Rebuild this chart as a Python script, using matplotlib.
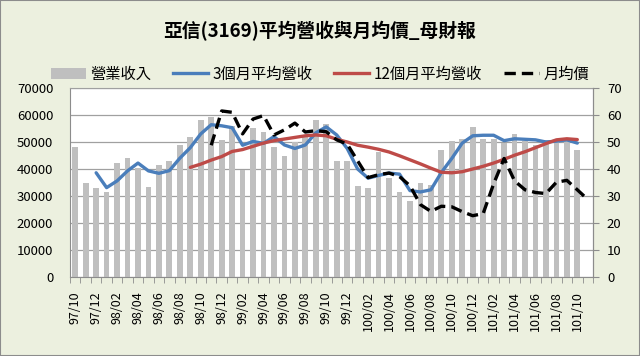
import numpy as np
import matplotlib
matplotlib.use('Agg')
import matplotlib.pyplot as plt
from matplotlib.patches import Patch, Rectangle
from matplotlib.lines import Line2D

plt.rcParams['font.family'] = ['Noto Sans CJK TC', 'DejaVu Sans']

# Data
title = '亞信(3169)平均營收與月均價_母財報'
months = ['97/10', '97/11', '97/12', '98/01', '98/02', '98/03', '98/04', '98/05', '98/06', '98/07',
          '98/08', '98/09', '98/10', '98/11', '98/12', '99/01', '99/02', '99/03', '99/04', '99/05',
          '99/06', '99/07', '99/08', '99/09', '99/10', '99/11', '99/12', '100/01', '100/02', '100/03',
          '100/04', '100/05', '100/06', '100/07', '100/08', '100/09', '100/10', '100/11', '100/12', '101/01',
          '101/02', '101/03', '101/04', '101/05', '101/06', '101/07', '101/08', '101/09', '101/10', '101/11']
revenue = [48000, 34800, 33000, 31600, 42200, 44100, 40300, 33500, 41500, 43100,
           48900, 51700, 58300, 59100, 50700, 56000, 39600, 55100, 53800, 48000,
           44900, 49900, 51900, 58300, 56500, 43100, 43100, 33800, 32800, 46200,
           36500, 31600, 28000, 34800, 34000, 47200, 50500, 51000, 55500, 51000,
           51000, 49500, 53000, 50500, 49000, 50600, 51200, 50600, 46900, None]
avg3 = [None, None, 38600, 33100, 35600, 39300, 42200, 39300, 38400, 39400,
        44000, 47900, 53000, 56400, 56000, 55300, 48800, 50200, 49500, 52000,
        48900, 47600, 48900, 53400, 55600, 52600, 47600, 40000, 36600, 37600,
        38500, 38100, 32000, 31500, 32300, 38700, 43900, 49600, 52300, 52500,
        52500, 50500, 51200, 51000, 50800, 50000, 50300, 50800, 49600, None]
avg12 = [None, None, None, None, None, None, None, None, None, None,
         None, 40600, 41800, 43300, 44600, 46500, 47200, 48400, 49600, 50500,
         51100, 51700, 52300, 52600, 52300, 51000, 50000, 48800, 48100, 47300,
         46300, 44900, 43400, 41900, 40300, 38800, 38600, 39000, 40000, 41000,
         42200, 43600, 45100, 46400, 47900, 49400, 50800, 51200, 50900, None]
price = [None, None, None, None, None, None, None, None, None, None,
         None, None, None, 48.8, 61.5, 61.0, 53.0, 58.5, 59.8, 52.6,
         54.5, 57.0, 53.7, 54.2, 53.8, 50.8, 49.2, 43.0, 36.8, 37.9,
         38.5, 37.2, 33.8, 26.8, 24.3, 26.2, 26.0, 24.2, 22.7, 23.5,
         34.5, 43.9, 35.6, 32.3, 31.3, 30.9, 35.1, 35.8, 32.3, 28.7]
labels = ['營業收入', '3個月平均營收', '12個月平均營收', '月均價']

c_bar = '#BFBFBF'
c_blue = '#4A7EBB'
c_red = '#BE4B48'
c_grid = '#A0A0A0'
c_axis = '#8C8C8C'
dash = (3.4, 1.8)

x = np.arange(len(months))
rev = np.array(revenue, dtype=float)
a3 = np.array(avg3, dtype=float)
a12 = np.array(avg12, dtype=float)
pr = np.array(price, dtype=float)

fig = plt.figure(figsize=(6.4, 3.56), dpi=100, facecolor='#ECF0DF')
fig.patches.append(Rectangle((0, 0), 1, 1, transform=fig.transFigure, fill=False,
                             edgecolor=c_axis, lw=1.5))
ax = fig.add_axes([70/640, 1-277/356, 523/640, 189/356])
ax.set_facecolor('white')

ax.bar(x, rev, width=0.55, color=c_bar, zorder=2)
ax.plot(x, a3, color=c_blue, lw=2.4, zorder=3, solid_capstyle='round')
ax.plot(x, a12, color=c_red, lw=2.4, zorder=3, solid_capstyle='round')
ax.set_xlim(-0.5, len(months)-0.5)
ax.set_ylim(0, 70000)
ax.set_yticks(np.arange(0, 70001, 10000))
ax.yaxis.grid(True, color=c_grid, lw=0.9)
ax.set_axisbelow(True)
ax.set_xticks(x[::2])
ax.set_xticklabels(months[::2], rotation=90, fontsize=9)
ax.set_xticks(np.arange(-0.5, len(months), 1), minor=True)
ax.tick_params(axis='x', which='major', length=0, pad=10)
ax.tick_params(axis='x', which='minor', length=4, color=c_axis, direction='out')
ax.tick_params(axis='y', length=0, pad=12, labelsize=9.5)
for s in ['left', 'bottom', 'right']:
    ax.spines[s].set_color(c_axis)
ax.spines['top'].set_color(c_grid)

ax2 = ax.twinx()
ax2.plot(x, pr, color='black', lw=2.4, dashes=dash, zorder=4)
ax2.set_ylim(0, 70)
ax2.set_yticks(np.arange(0, 71, 10))
ax2.tick_params(axis='y', length=4, color=c_axis, direction='out', pad=6, labelsize=9.5)
for s in ['left', 'bottom', 'top']:
    ax2.spines[s].set_visible(False)
ax2.spines['right'].set_color(c_axis)

fig.text(0.5, 1-31/356, title, ha='center', va='center', fontsize=13.5, fontweight='bold')

handles = [Patch(facecolor=c_bar),
           Line2D([], [], color=c_blue, lw=2.4),
           Line2D([], [], color=c_red, lw=2.4),
           Line2D([], [], color='black', lw=2.4, dashes=dash)]
fig.legend(handles, labels, loc='center', bbox_to_anchor=(0.5, 1-74/356), ncol=4,
           frameon=False, fontsize=11, handlelength=2.3, handletextpad=0.3,
           columnspacing=1.4)

fig.savefig('out.png', dpi=100, facecolor=fig.get_facecolor())
